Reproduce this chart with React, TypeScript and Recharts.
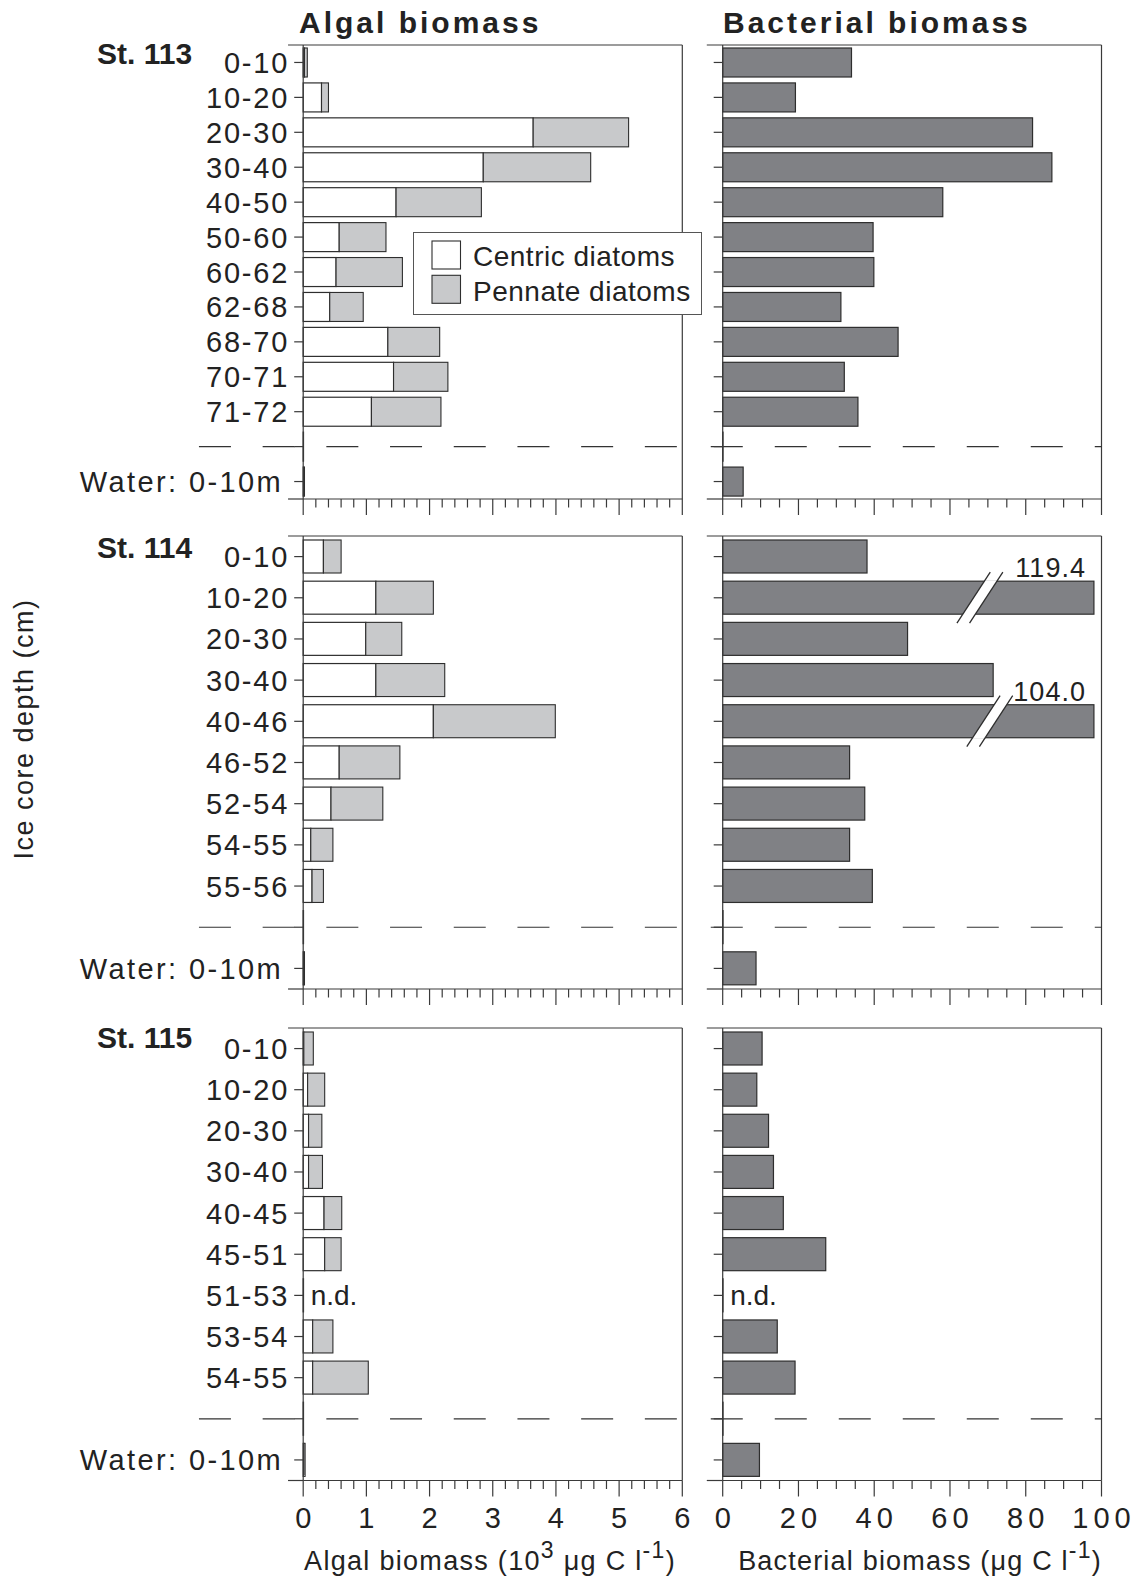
import React from 'react';
import { BarChart, Bar, XAxis, YAxis, ReferenceLine, Legend } from 'recharts';

const FONT = '"Liberation Sans", Arial, Helvetica, sans-serif';
const INK = '#222';
const AXIS = '#3a3a3a';
const EDGE = '#2e2e2e';
const CENTRIC_FILL = '#ffffff';
const PENNATE_FILL = '#c8c9cb';
const BACT_FILL = '#808185';

// St. 113
const depths113 = ['0-10', '10-20', '20-30', '30-40', '40-50', '50-60', '60-62', '62-68', '68-70', '70-71', '71-72'];
const centric113 = [0.02, 0.29, 3.64, 2.85, 1.47, 0.57, 0.52, 0.42, 1.34, 1.43, 1.08];
const pennate113 = [0.045, 0.11, 1.51, 1.7, 1.35, 0.74, 1.05, 0.53, 0.82, 0.86, 1.1];
const bacteria113 = [34.0, 19.2, 81.8, 86.9, 58.1, 39.7, 39.9, 31.2, 46.3, 32.1, 35.7];

// St. 114
const depths114 = ['0-10', '10-20', '20-30', '30-40', '40-46', '46-52', '52-54', '54-55', '55-56'];
const centric114 = [0.32, 1.15, 0.99, 1.15, 2.06, 0.57, 0.44, 0.12, 0.14];
const pennate114 = [0.28, 0.91, 0.57, 1.09, 1.93, 0.96, 0.82, 0.35, 0.18];
const bacteria114 = [38.1, 119.4, 48.8, 71.4, 104.0, 33.5, 37.5, 33.5, 39.5];
const breaks114 = [null, 67.9, null, null, 70.5, null, null, null, null];

// St. 115 (null = n.d.)
const depths115 = ['0-10', '10-20', '20-30', '30-40', '40-45', '45-51', '51-53', '53-54', '54-55'];
const centric115 = [0.01, 0.07, 0.085, 0.085, 0.33, 0.34, null, 0.15, 0.15];
const pennate115 = [0.15, 0.27, 0.21, 0.22, 0.28, 0.26, null, 0.32, 0.88];
const bacteria115 = [10.4, 9.0, 12.1, 13.4, 16.0, 27.2, null, 14.4, 19.1];

// water samples 0-10 m, St. 113 / 114 / 115
const waterCentric = [0.01, 0.01, 0.01];
const waterPennate = [0.01, 0.01, 0.02];
const waterBacteria = [5.4, 8.8, 9.7];

const algalMajor = [0, 1, 2, 3, 4, 5, 6];
const bactMajor = [0, 20, 40, 60, 80, 100];
const makeTicks = (max: number, step: number) =>
  Array.from({ length: Math.round(max / step) + 1 }, (_, k) => Math.round(k * step * 1000) / 1000);
const algalTicks = makeTicks(6, 0.2);
const bactTicks = makeTicks(100, 5);

const legendItems = [
  { name: 'Centric diatoms', fill: CENTRIC_FILL },
  { name: 'Pennate diatoms', fill: PENNATE_FILL },
];

const GAP = 'gap';
const WATER = 'Water: 0-10m';
const ALGAL_STUB = 0.004;
const BACT_STUB = 0.08;
const AXIS_CAP = 98;

function algalRows(depths: string[], centric: (number | null)[], pennate: (number | null)[], k: number) {
  const rows: any[] = depths.map((d, i) => ({
    depth: d,
    centric: centric[i] ?? ALGAL_STUB,
    pennate: pennate[i] ?? 0,
    nd: centric[i] == null,
  }));
  rows.push({ depth: GAP, centric: ALGAL_STUB, pennate: 0, nd: false });
  rows.push({ depth: WATER, centric: waterCentric[k], pennate: waterPennate[k], nd: false });
  return rows;
}

function bactRows(depths: string[], values: (number | null)[], k: number, breaks?: (number | null)[]) {
  const rows: any[] = depths.map((d, i) => {
    const v = values[i];
    return {
      depth: d,
      value: v,
      shown: v == null ? BACT_STUB : Math.min(v, AXIS_CAP),
      breakAt: breaks ? breaks[i] : null,
      nd: v == null,
    };
  });
  rows.push({ depth: GAP, value: null, shown: BACT_STUB, breakAt: null, nd: false });
  rows.push({ depth: WATER, value: waterBacteria[k], shown: waterBacteria[k], breakAt: null, nd: false });
  return rows;
}

const ndText = (x: number, y: number, h: number) => (
  <text x={x + 7.5} y={y + h / 2 + 10} fontSize={28} fill={INK} fontFamily={FONT}>n.d.</text>
);

const centricShape = (props: any) => {
  const { x, y, width, height, payload } = props;
  return (
    <g>
      <rect x={x} y={y} width={Math.max(width, 0.3)} height={height} fill={CENTRIC_FILL} stroke={EDGE} strokeWidth={1.2} />
      {payload.nd ? ndText(x, y, height) : null}
    </g>
  );
};

const pennateShape = (props: any) => {
  const { x, y, width, height } = props;
  if (!(width > 0.2)) return <g />;
  return <rect x={x} y={y} width={width} height={height} fill={PENNATE_FILL} stroke={EDGE} strokeWidth={1.1} />;
};

const bactShape = (props: any) => {
  const { x, y, width, height, payload } = props;
  const parts: React.ReactNode[] = [
    <rect key="r" x={x} y={y} width={Math.max(width, 0.3)} height={height} fill={BACT_FILL} stroke={EDGE} strokeWidth={1.2} />,
  ];
  if (payload.breakAt != null) {
    const bx = x + (width * payload.breakAt) / payload.shown;
    const off = 6.3;
    const slope = 0.653;
    const half = height / 2;
    const my = y + half;
    const hh = half + 9;
    const pts = [
      [bx - off + (half + 1) * slope, y - 1],
      [bx + off + (half + 1) * slope, y - 1],
      [bx + off - (half + 1) * slope, y + height + 1],
      [bx - off - (half + 1) * slope, y + height + 1],
    ];
    parts.push(<polygon key="gap" points={pts.map((p) => p.join(',')).join(' ')} fill="#fff" />);
    [-off, off].forEach((o, i) =>
      parts.push(
        <line key={'l' + i} x1={bx + o - hh * slope} y1={my + hh} x2={bx + o + hh * slope} y2={my - hh} stroke={EDGE} strokeWidth={1.3} />
      )
    );
    parts.push(
      <text key="t" x={x + width - 8} y={y - 4} textAnchor="end" fontSize={27} letterSpacing={1} fill={INK} fontFamily={FONT}>
        {payload.value.toFixed(1)}
      </text>
    );
  }
  if (payload.nd) parts.push(<g key="nd">{ndText(x, y, height)}</g>);
  return <g>{parts}</g>;
};

const depthTick = (showLabel: boolean) => (props: any) => {
  const { x, y, payload } = props;
  const v = payload.value;
  const isWater = v === WATER;
  return (
    <g>
      <line x1={x - 9} y1={y} x2={x} y2={y} stroke={AXIS} strokeWidth={1.2} />
      {showLabel && v !== GAP ? (
        <text
          x={x - 14 - (isWater ? 6 : 0)}
          y={y + 10.5}
          textAnchor="end"
          fontSize={29}
          letterSpacing={isWater ? 2.4 : 1.8}
          fill={INK}
          fontFamily={FONT}
        >
          {v}
        </text>
      ) : null}
    </g>
  );
};

const valueTick = (majors: number[], showLabels: boolean, ls: number) => (props: any) => {
  const { x, y, payload } = props;
  const v = payload.value;
  const major = majors.includes(v);
  return (
    <g>
      <line x1={x} y1={y} x2={x} y2={y + (major ? 16 : 8.5)} stroke={AXIS} strokeWidth={1.2} />
      {showLabels && major ? (
        <text x={x + ls / 2} y={y + 47} textAnchor="middle" fontSize={29} letterSpacing={ls} fill={INK} fontFamily={FONT}>
          {v}
        </text>
      ) : null}
    </g>
  );
};

const LegendBox = () => (
  <svg width={290} height={84} style={{ display: 'block' }}>
    <rect x={0.5} y={0.5} width={288} height={82} fill="#fff" stroke="#555" strokeWidth={1} />
    {legendItems.map((it, i) => (
      <g key={it.name}>
        <rect x={19} y={9 + i * 34.3} width={28.5} height={28} fill={it.fill} stroke={EDGE} strokeWidth={1.1} />
        <text x={60} y={34.3 + i * 35} fontSize={28} letterSpacing={0.5} fill={INK} fontFamily={FONT}>
          {it.name}
        </text>
      </g>
    ))}
  </svg>
);

const MT = 20;
const LEFT_W = 705;
const LEFT_AXIS_X = 303.2;
const LEFT_RIGHT_X = 682.3;
const RIGHT_LEFT = 700;
const RIGHT_W = 437;
const RIGHT_AXIS_X = 722.7;
const RIGHT_RIGHT_X = 1101.5;

const lineStyle = { stroke: AXIS, strokeWidth: 1.2 };

type PanelProps = {
  rows: any[];
  plotTop: number;
  plotBottom: number;
  barSize: number;
  showLabels: boolean;
  legend?: boolean;
};

function AlgalPanel({ rows, plotTop, plotBottom, barSize, showLabels, legend }: PanelProps) {
  const axisH = showLabels ? 60 : 22;
  const height = MT + (plotBottom - plotTop) + axisH;
  const first = rows[0].depth;
  return (
    <div style={{ position: 'absolute', left: 0, top: plotTop - MT }}>
      <BarChart
        layout="vertical"
        width={LEFT_W}
        height={height}
        data={rows}
        margin={{ top: MT, right: LEFT_W - LEFT_RIGHT_X, bottom: 0, left: 0 }}
      >
        <XAxis
          type="number"
          domain={[0, 6]}
          ticks={algalTicks}
          interval={0}
          tickSize={0}
          tickMargin={0}
          tickLine={false}
          axisLine={lineStyle}
          tick={valueTick(algalMajor, showLabels, 0)}
          height={axisH}
        />
        <YAxis
          type="category"
          dataKey="depth"
          width={LEFT_AXIS_X}
          interval={0}
          tickSize={0}
          tickMargin={0}
          tickLine={false}
          axisLine={lineStyle}
          tick={depthTick(true)}
        />
        <ReferenceLine segment={[{ x: -0.24, y: first }, { x: 6, y: first }]} position="start" ifOverflow="visible" {...lineStyle} />
        <ReferenceLine segment={[{ x: -0.24, y: WATER }, { x: 0, y: WATER }]} position="end" ifOverflow="visible" {...lineStyle} />
        <ReferenceLine x={6} {...lineStyle} />
        <ReferenceLine
          segment={[{ x: -1.65, y: GAP }, { x: 6, y: GAP }]}
          ifOverflow="visible"
          stroke="#333"
          strokeWidth={1.2}
          strokeDasharray="32 31.7"
        />
        <Bar dataKey="centric" name="Centric diatoms" stackId="a" barSize={barSize} shape={centricShape} isAnimationActive={false} />
        <Bar dataKey="pennate" name="Pennate diatoms" stackId="a" barSize={barSize} shape={pennateShape} isAnimationActive={false} />
        {legend ? (
          <Legend
            layout="horizontal"
            verticalAlign="middle"
            align="center"
            content={() => <LegendBox />}
            wrapperStyle={{ left: 413, top: 231.7 - (plotTop - MT), width: 290, height: 84 }}
          />
        ) : null}
      </BarChart>
    </div>
  );
}

function BactPanel({ rows, plotTop, plotBottom, barSize, showLabels }: PanelProps) {
  const axisH = showLabels ? 60 : 22;
  const height = MT + (plotBottom - plotTop) + axisH;
  const first = rows[0].depth;
  return (
    <div style={{ position: 'absolute', left: RIGHT_LEFT, top: plotTop - MT }}>
      <BarChart
        layout="vertical"
        width={RIGHT_W}
        height={height}
        data={rows}
        margin={{ top: MT, right: RIGHT_LEFT + RIGHT_W - RIGHT_RIGHT_X, bottom: 0, left: 0 }}
      >
        <XAxis
          type="number"
          domain={[0, 100]}
          ticks={bactTicks}
          interval={0}
          tickSize={0}
          tickMargin={0}
          tickLine={false}
          axisLine={lineStyle}
          tick={valueTick(bactMajor, showLabels, 5)}
          height={axisH}
        />
        <YAxis
          type="category"
          dataKey="depth"
          width={RIGHT_AXIS_X - RIGHT_LEFT}
          interval={0}
          tickSize={0}
          tickMargin={0}
          tickLine={false}
          axisLine={lineStyle}
          tick={depthTick(false)}
        />
        <ReferenceLine segment={[{ x: -4.2, y: first }, { x: 100, y: first }]} position="start" ifOverflow="visible" {...lineStyle} />
        <ReferenceLine segment={[{ x: -4.2, y: WATER }, { x: 0, y: WATER }]} position="end" ifOverflow="visible" {...lineStyle} />
        <ReferenceLine x={100} {...lineStyle} />
        <ReferenceLine
          segment={[{ x: -3.15, y: GAP }, { x: 100.1, y: GAP }]}
          ifOverflow="visible"
          stroke="#333"
          strokeWidth={1.2}
          strokeDasharray="32 32"
        />
        <Bar dataKey="shown" name="Bacterial biomass" barSize={barSize} shape={bactShape} isAnimationActive={false} />
      </BarChart>
    </div>
  );
}

const panels = [
  { label: 'St. 113', labelY: 63.5, top: 45, bottom: 499, barSize: 29, algal: algalRows(depths113, centric113, pennate113, 0), bact: bactRows(depths113, bacteria113, 0) },
  { label: 'St. 114', labelY: 558, top: 536, bottom: 989, barSize: 33, algal: algalRows(depths114, centric114, pennate114, 1), bact: bactRows(depths114, bacteria114, 1, breaks114) },
  { label: 'St. 115', labelY: 1048, top: 1027.5, bottom: 1480, barSize: 33, algal: algalRows(depths115, centric115, pennate115, 2), bact: bactRows(depths115, bacteria115, 2) },
];

export default function App() {
  return (
    <div style={{ position: 'absolute', left: 0, top: 0, width: 1137, height: 1580, background: '#fff', fontFamily: FONT, overflow: 'hidden' }}>
      {panels.map((p, i) => (
        <React.Fragment key={p.label}>
          <AlgalPanel rows={p.algal} plotTop={p.top} plotBottom={p.bottom} barSize={p.barSize} showLabels={i === 2} legend={i === 0} />
          <BactPanel rows={p.bact} plotTop={p.top} plotBottom={p.bottom} barSize={p.barSize} showLabels={i === 2} />
        </React.Fragment>
      ))}
      <svg width={1137} height={1580} style={{ position: 'absolute', left: 0, top: 0, pointerEvents: 'none' }}>
        <g fontFamily={FONT} fill={INK}>
          <text x={299} y={33} fontSize={30} fontWeight="bold" letterSpacing={3}>Algal biomass</text>
          <text x={723} y={33} fontSize={30} fontWeight="bold" letterSpacing={3}>Bacterial biomass</text>
          {panels.map((p) => (
            <text key={p.label} x={97} y={p.labelY} fontSize={30} fontWeight="bold">{p.label}</text>
          ))}
          <text x={33} y={729} fontSize={27} letterSpacing={1.5} textAnchor="middle" transform="rotate(-90 33 729)">
            Ice core depth (cm)
          </text>
          <text x={490} y={1570} fontSize={27} letterSpacing={1.3} textAnchor="middle">
            Algal biomass (10<tspan dy={-12} fontSize={23}>3</tspan>
            <tspan dy={12}> μg C l</tspan>
            <tspan dy={-12} fontSize={23}>-1</tspan>
            <tspan dy={12}>)</tspan>
          </text>
          <text x={920} y={1570} fontSize={27} letterSpacing={1.2} textAnchor="middle">
            Bacterial biomass (μg C l<tspan dy={-12} fontSize={23}>-1</tspan>
            <tspan dy={12}>)</tspan>
          </text>
        </g>
      </svg>
    </div>
  );
}
